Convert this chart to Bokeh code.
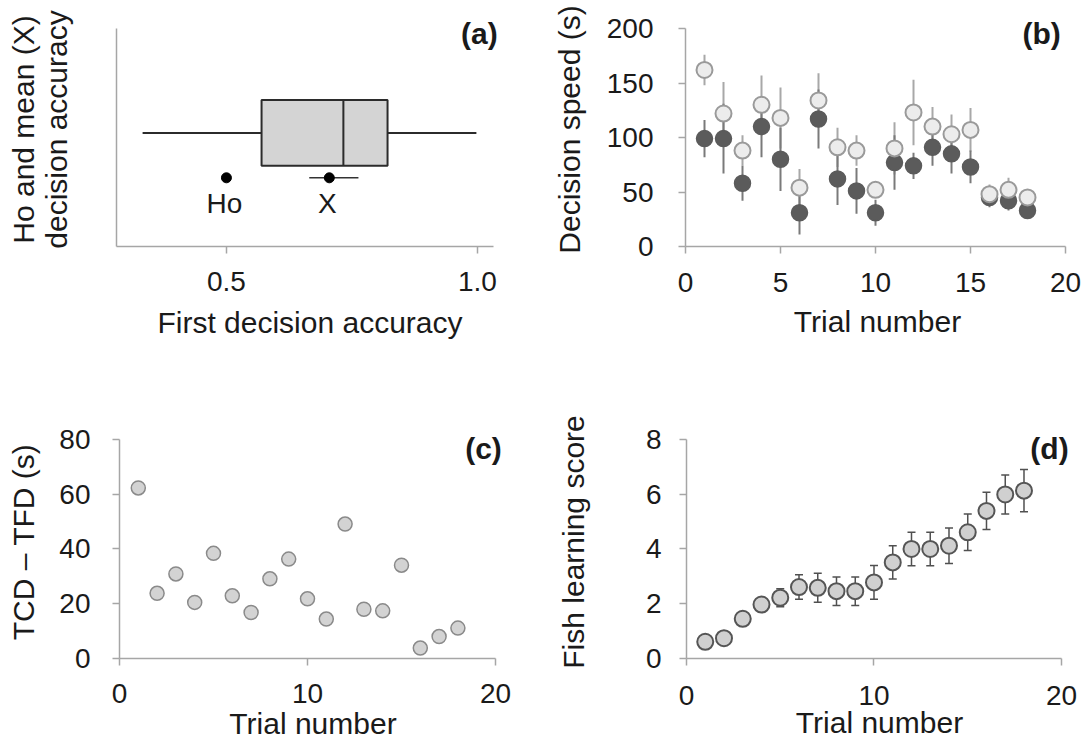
from bokeh.plotting import figure
from bokeh.layouts import column, row
from bokeh.models import (ColumnDataSource, FixedTicker, Whisker, TeeHead, Label,
                          NumeralTickFormatter)
from bokeh.core.properties import value
from bokeh.embed import file_html
from bokeh.resources import INLINE

FONT = "Liberation Sans"
TXT = "#1a1a1a"
AXC = "#a6a6a6"

# ---------------- data ----------------
# (a) box plot of first decision accuracy
box_q1, box_median, box_q3 = 0.570, 0.733, 0.821
whisker_low, whisker_high = 0.333, 0.998
ho_value = 0.5
mean_value, mean_ci_low, mean_ci_high = 0.705, 0.665, 0.763
a_ticks = [0.5, 1.0]

# (b) decision speed
trials = list(range(1, 19))
b_light_mean = [162, 122, 88, 130, 118, 54, 134, 91, 88, 52, 90, 123, 110, 103, 107, 48, 52, 45]
b_light_err = [14, 29, 14, 27, 28, 17, 25, 18, 14, 6, 24, 30, 18, 18, 20, 9, 11, 7]
b_dark_mean = [99, 99, 58, 110, 80, 31, 117, 62, 51, 31, 77, 74, 91, 85, 73, 45, 42, 33]
b_dark_err = [17, 32, 16, 28, 29, 20, 27, 24, 21, 12, 25, 12, 17, 18, 15, 9, 9, 5]
b_xticks = [0, 5, 10, 15, 20]
b_yticks = [0, 50, 100, 150, 200]

# (c) TCD - TFD
c_values = [62.3, 23.8, 30.9, 20.5, 38.4, 22.9, 16.8, 29.1, 36.3, 21.8, 14.4, 49.1,
            18.0, 17.4, 34.1, 3.8, 8.0, 11.1]
c_xticks = [0, 10, 20]
c_yticks = [0, 20, 40, 60, 80]

# (d) fish learning score
d_mean = [0.61, 0.74, 1.45, 1.97, 2.22, 2.61, 2.58, 2.46, 2.46, 2.78, 3.51, 4.00,
          4.00, 4.12, 4.61, 5.39, 5.99, 6.13]
d_err = [0.10, 0.12, 0.15, 0.22, 0.33, 0.45, 0.53, 0.52, 0.52, 0.62, 0.61, 0.61,
         0.61, 0.65, 0.67, 0.68, 0.71, 0.77]
d_xticks = [0, 10, 20]
d_yticks = [0, 2, 4, 6, 8]


def make_fig(width, height, left, right, top, bottom, xr, yr, xb, yb):
    p = figure(width=width, height=height, min_border_left=left, min_border_right=right,
               min_border_top=top, min_border_bottom=bottom, x_range=xr, y_range=yr,
               output_backend="svg", toolbar_location=None)
    p.outline_line_color = None
    p.xgrid.visible = False
    p.ygrid.visible = False
    p.background_fill_color = "white"
    p.border_fill_color = "white"
    p.xaxis.bounds = xb
    p.yaxis.bounds = yb
    for ax in p.axis:
        ax.axis_line_color = AXC
        ax.axis_line_width = 1.5
        ax.major_tick_line_color = AXC
        ax.major_tick_line_width = 1.5
        ax.major_tick_out = 7
        ax.major_tick_in = 0
        ax.minor_tick_line_color = None
        ax.major_label_text_font = FONT
        ax.major_label_text_font_size = "28px"
        ax.major_label_text_color = TXT
        ax.axis_label_text_font = FONT
        ax.axis_label_text_font_size = "30px"
        ax.axis_label_text_font_style = "normal"
        ax.axis_label_text_color = TXT
    return p


def panel_label(p, text, x, y):
    p.add_layout(Label(x=x, y=y, text=text, text_font=FONT, text_font_size="30px",
                       text_font_style="bold", text_color=TXT, text_align="center",
                       text_baseline="middle"))


# ---------------- (a) ----------------
pa = make_fig(540, 372, 116, 37, 12, 125, (0.281, 1.052), (0, 1.073),
              (0.281, 1.032), (0, 1))
box_y, box_half, pt_y = 0.521, 0.151, 0.315
pa.quad(left=[box_q1], right=[box_q3], bottom=[box_y - box_half], top=[box_y + box_half],
        fill_color="#d4d4d4", line_color="#2b2b2b", line_width=2)
pa.segment(x0=[box_median], x1=[box_median], y0=[box_y - box_half], y1=[box_y + box_half],
           line_color="#2b2b2b", line_width=2)
pa.segment(x0=[whisker_low, box_q3], x1=[box_q1, whisker_high], y0=[box_y, box_y],
           y1=[box_y, box_y], line_color="#2b2b2b", line_width=2)
pa.segment(x0=[mean_ci_low], x1=[mean_ci_high], y0=[pt_y], y1=[pt_y],
           line_color="#333333", line_width=1.5)
pa.scatter(x=[ho_value, mean_value], y=[pt_y, pt_y], size=10, fill_color="black",
           line_color="black")
pa.text(x=[ho_value, mean_value], y=[pt_y, pt_y], text=["Ho", "X"], y_offset=26,
        x_offset=-2, text_font=value(FONT), text_font_size="28px", text_color=TXT,
        text_align="center", text_baseline="middle")
pa.xaxis.ticker = FixedTicker(ticks=a_ticks)
pa.xaxis.formatter = NumeralTickFormatter(format="0.0")
pa.xaxis.major_label_standoff = 18
pa.xaxis.axis_label = "First decision accuracy"
pa.xaxis.axis_label_standoff = 12
pa.yaxis.ticker = FixedTicker(ticks=[])
pa.yaxis.major_tick_out = 0
pa.yaxis.major_label_standoff = 0
pa.yaxis.axis_label = "Ho and mean (X)\ndecision accuracy"
pa.yaxis.axis_label_standoff = 44
pa.yaxis.axis_label_text_line_height = 1.0
panel_label(pa, "(a)", 1.004, 0.977)

# ---------------- (b) ----------------
pb = make_fig(545, 372, 145, 16, 12, 126, (0, 20.21), (0, 214.7), (0, 20), (0, 200))
src_bl = ColumnDataSource(dict(x=trials, y=b_light_mean,
                               lo=[m - e for m, e in zip(b_light_mean, b_light_err)],
                               hi=[m + e for m, e in zip(b_light_mean, b_light_err)]))
src_bd = ColumnDataSource(dict(x=trials, y=b_dark_mean,
                               lo=[m - e for m, e in zip(b_dark_mean, b_dark_err)],
                               hi=[m + e for m, e in zip(b_dark_mean, b_dark_err)]))
pb.segment(x0="x", x1="x", y0="lo", y1="hi", source=src_bl, line_color="#a8a8a8", line_width=2)
pb.segment(x0="x", x1="x", y0="lo", y1="hi", source=src_bd, line_color="#7a7a7a", line_width=2)
pb.scatter(x="x", y="y", source=src_bd, size=16, fill_color="#5b5b5b", line_color="#5b5b5b",
           line_width=1.5)
pb.scatter(x="x", y="y", source=src_bl, size=16, fill_color="#ececec", line_color="#9a9a9a",
           line_width=2)
pb.xaxis.ticker = FixedTicker(ticks=b_xticks)
pb.yaxis.ticker = FixedTicker(ticks=b_yticks)
pb.xaxis.major_label_standoff = 19
pb.yaxis.major_label_standoff = 25
pb.xaxis.axis_label = "Trial number"
pb.xaxis.axis_label_standoff = 10
pb.yaxis.axis_label = "Decision speed (s)"
pb.yaxis.axis_label_standoff = 18
panel_label(pb, "(b)", 18.74, 195.4)

# ---------------- (c) ----------------
pc = make_fig(540, 372, 119, 34, 53, 86, (0, 20.585), (0, 85.11), (0, 20), (0, 80))
pc.scatter(x=trials, y=c_values, size=14, fill_color="#d3d3d3", line_color="#8a8a8a",
           line_width=1.5)
pc.xaxis.ticker = FixedTicker(ticks=c_xticks)
pc.yaxis.ticker = FixedTicker(ticks=c_yticks)
pc.xaxis.major_label_standoff = 18
pc.yaxis.major_label_standoff = 22
pc.xaxis.axis_label = "Trial number"
pc.xaxis.axis_label_standoff = 1
pc.yaxis.axis_label = "TCD \u2013 TFD (s)"
pc.yaxis.axis_label_standoff = 16
panel_label(pc, "(c)", 19.36, 76.7)

# ---------------- (d) ----------------
pd_ = make_fig(545, 372, 146, 13, 53, 85, (0, 20.587), (0, 8.509), (0, 20), (0, 8))
src_d = ColumnDataSource(dict(x=trials, y=d_mean,
                              lo=[m - e for m, e in zip(d_mean, d_err)],
                              hi=[m + e for m, e in zip(d_mean, d_err)]))
pd_.add_layout(Whisker(base="x", lower="lo", upper="hi", source=src_d,
                       line_color="#505050", line_width=1.5,
                       lower_head=TeeHead(size=8, line_color="#505050", line_width=1.5),
                       upper_head=TeeHead(size=8, line_color="#505050", line_width=1.5)))
pd_.scatter(x="x", y="y", source=src_d, size=16, fill_color="#d0d0d0", line_color="#555555",
            line_width=2)
pd_.xaxis.ticker = FixedTicker(ticks=d_xticks)
pd_.yaxis.ticker = FixedTicker(ticks=d_yticks)
pd_.xaxis.major_label_standoff = 20
pd_.yaxis.major_label_standoff = 18
pd_.xaxis.axis_label = "Trial number"
pd_.xaxis.axis_label_standoff = -2
pd_.yaxis.axis_label = "Fish learning score"
pd_.yaxis.axis_label_standoff = 53
panel_label(pd_, "(d)", 19.36, 7.67)

layout = column(row(pa, pb), row(pc, pd_))
open("out.html", "w").write(file_html(layout, INLINE))
